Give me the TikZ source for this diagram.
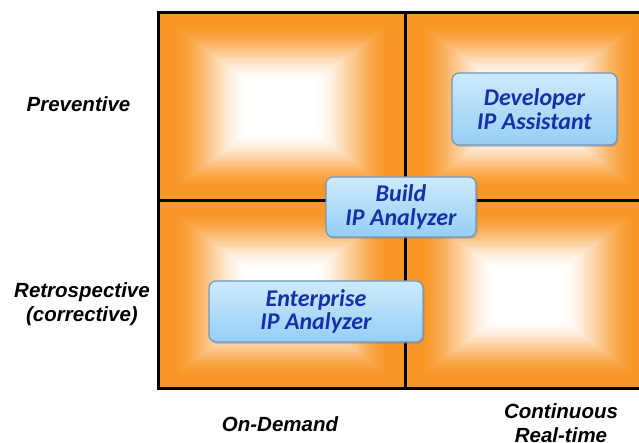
\documentclass[tikz,border=0pt]{standalone}
\usepackage{fontspec}
\newfontfamily\labfont{Liberation Sans}
\newfontfamily\boxfont{Carlito}
\usetikzlibrary{shadows}
\definecolor{qorange}{RGB}{248,150,38}
\definecolor{boxtext}{RGB}{22,48,170}
\definecolor{boxtop}{RGB}{205,234,252}
\definecolor{boxbot}{RGB}{150,206,245}
\definecolor{boxedge}{RGB}{115,150,185}
\tikzset{
  ipbox/.style={rectangle, rounded corners=7pt, draw=boxedge, line width=1.2pt,
    top color=boxtop, bottom color=boxbot, align=center, inner sep=0pt,
    font=\boxfont\bfseries\itshape\fontsize{24}{23.5}\selectfont, text=boxtext,
    drop shadow={opacity=0.35, shadow xshift=1.5pt, shadow yshift=-2pt}},
  axislabel/.style={align=center, inner sep=0pt,
    font=\labfont\bfseries\itshape\fontsize{20.5}{24}\selectfont, text=black},
  gridline/.style={line width=3pt, black}
}
\newcommand\quadshade[4]{% cx cy hw hh
  \foreach \i in {0,...,60}{
    \pgfmathsetmacro\tt{\i/60*0.8}
    \pgfmathsetmacro\bb{min(1,max(0,(0.74-\tt)/0.64))}
    \pgfmathsetmacro\pp{100*(3*\bb*\bb-2*\bb*\bb*\bb)}
    \fill[qorange!\pp!white] ({#1-#3*(1-\tt)},{#2-#4*(1-\tt)}) rectangle ({#1+#3*(1-\tt)},{#2+#4*(1-\tt)});
  }
}
\begin{document}
\begin{tikzpicture}[x=1pt,y=-1pt]
\useasboundingbox (0,0) rectangle (639,443);
\clip (0,0) rectangle (639,443);
% quadrants
\quadshade{281.5}{107}{123.5}{94}
\quadshade{528.5}{107}{123.5}{94}
\quadshade{281.5}{294.5}{123.5}{93.5}
\quadshade{528.5}{294.5}{123.5}{93.5}
% frame and dividers
\coordinate (tl) at (158,13);
\coordinate (br) at (652,388);
\coordinate (vt) at (405,13);
\coordinate (vb) at (405,388);
\coordinate (hl) at (158,201);
\coordinate (hr) at (652,201);
\draw[gridline] (tl) rectangle (br);
\draw[gridline] (vt) -- (vb);
\draw[gridline] (hl) -- (hr);
% boxes
\node[ipbox, minimum width=165pt, minimum height=72pt] (dev) at (534.5,109) {Developer\\IP Assistant};
\node[ipbox, minimum width=150pt, minimum height=60pt] (build) at (401,207) {Build\\IP Analyzer};
\node[ipbox, minimum width=214pt, minimum height=61pt] (ent) at (316,311.5) {Enterprise\\IP Analyzer};
% labels
\node[axislabel] (prev) at (78.5,104) {Preventive};
\node[axislabel] (retro) at (82,304) {Retrospective\\(corrective)};
\node[axislabel] (ondem) at (280,424) {On-Demand};
\node[axislabel] (cont) at (561,423) {Continuous\\Real-time};
\end{tikzpicture}
\end{document}
